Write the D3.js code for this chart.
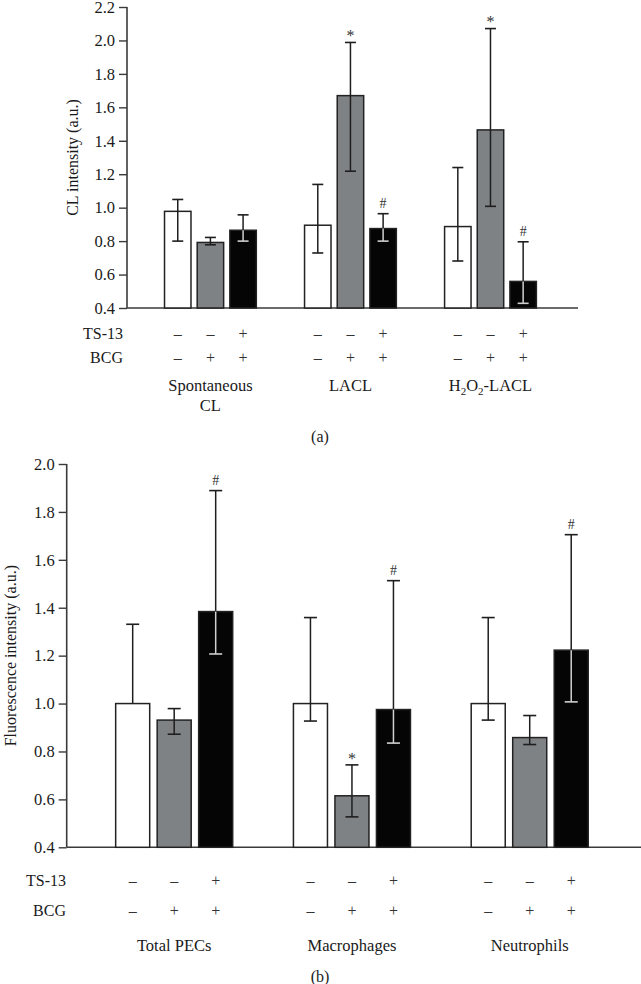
<!DOCTYPE html>
<html>
<head>
<meta charset="utf-8">
<script src="https://cdn.jsdelivr.net/npm/d3@7"></script>
<style>
  body { margin: 0; background: #fff; }
  svg { display: block; font-family: "Liberation Serif", "Times New Roman", serif; }
</style>
</head>
<body>
<svg id="canvas" width="641" height="984"></svg>
<script>
// ---- panel (a) data ----
let topGroups = ["Spontaneous CL", "LACL", "H2O2-LACL"]
let topMeans = [[0.978, 0.792, 0.865], [0.895, 1.67, 0.875], [0.887, 1.465, 0.559]]
let topUpper = [[1.049, 0.822, 0.957], [1.139, 1.988, 0.964], [1.24, 2.071, 0.796]]
let topLower = [[0.80, 0.778, 0.80], [0.729, 1.218, 0.80], [0.681, 1.008, 0.428]]
let topMarks = [["", "", ""], ["", "*", "#"], ["", "*", "#"]]
let topTicks = [0.4, 0.6, 0.8, 1.0, 1.2, 1.4, 1.6, 1.8, 2.0, 2.2]

// ---- panel (b) data ----
let botGroups = ["Total PECs", "Macrophages", "Neutrophils"]
let botMeans = [[1.0, 0.931, 1.384], [1.0, 0.615, 0.975], [1.0, 0.858, 1.223]]
let botUpper = [[1.331, 0.979, 1.889], [1.359, 0.744, 1.513], [1.359, 0.95, 1.705]]
let botLower = [[1.0, 0.872, 1.207], [0.927, 0.527, 0.835], [0.931, 0.829, 1.007]]
let botMarks = [["", "", "#"], ["", "*", "#"], ["", "", "#"]]
let botTicks = [0.4, 0.6, 0.8, 1.0, 1.2, 1.4, 1.6, 1.8, 2.0]

// treatment rows (same for every group)
let ts13 = ["\u2013", "\u2013", "+"]
let bcg = ["\u2013", "+", "+"]
let barFills = ["#ffffff", "#7f8285", "#050505"]

let canvas = d3.select('#canvas')

let drawPanel = (p) => {
    let g = canvas.append('g')
    let y = d3.scaleLinear().domain([p.ticks[0], p.ticks[p.ticks.length - 1]]).range([p.y0, p.y1])
    let x = d3.scaleBand().domain(d3.range(p.groups.length)).range(p.groupRange).paddingInner(0)
    let xi = d3.scaleBand().domain([0, 1, 2]).range([-p.inner / 2, p.inner / 2]).paddingInner(p.pad).paddingOuter(p.pad / 2)
    let cx = (gi, bi) => x(gi) + x.bandwidth() / 2 + xi(bi) + xi.bandwidth() / 2

    // axes
    let yAxis = d3.axisLeft(y).tickValues(p.ticks).tickFormat(d3.format('.1f')).tickSize(8).tickPadding(4)
    let ya = g.append('g').attr('transform', `translate(${p.axisX},0)`).call(yAxis)
    ya.select('.domain').attr('stroke', '#3a3a3a').attr('stroke-width', 1.6).attr('d', `M0,${p.y0}V${p.y1}`)
    ya.selectAll('.tick line').attr('stroke', '#3a3a3a').attr('stroke-width', 1.4)
    ya.selectAll('.tick text').attr('font-size', 16.5).attr('fill', '#1a1a1a').attr('font-family', 'Liberation Serif')
    g.append('line').attr('x1', p.axisX).attr('x2', p.axisEnd).attr('y1', p.y0).attr('y2', p.y0)
        .attr('stroke', '#3a3a3a').attr('stroke-width', 1.6)

    g.append('text').attr('transform', `translate(${p.labelX},${(p.y0 + p.y1) / 2}) rotate(-90)`)
        .attr('text-anchor', 'middle').attr('dy', '0.35em').attr('font-size', 16).attr('fill', '#1a1a1a')
        .text(p.ylabel)

    p.means.forEach((row, gi) => {
        row.forEach((v, bi) => {
            let c = cx(gi, bi)
            let w = xi.bandwidth()
            g.append('rect').attr('x', c - w / 2).attr('y', y(v)).attr('width', w).attr('height', p.y0 - y(v))
                .attr('fill', barFills[bi]).attr('stroke', '#222').attr('stroke-width', 1.5)

            let hi = p.upper[gi][bi], lo = p.lower[gi][bi]
            let dark = '#1e1e1e'
            // whisker above the bar
            g.append('line').attr('x1', c).attr('x2', c).attr('y1', y(hi)).attr('y2', y(v)).attr('stroke', dark).attr('stroke-width', 1.5)
            g.append('line').attr('x1', c - p.cap / 2).attr('x2', c + p.cap / 2).attr('y1', y(hi)).attr('y2', y(hi)).attr('stroke', dark).attr('stroke-width', 1.6)
            // whisker inside the bar (light on black bars)
            if (lo < v) {
                let col = bi == 2 ? '#d0d0d0' : dark
                g.append('line').attr('x1', c).attr('x2', c).attr('y1', y(v)).attr('y2', y(lo)).attr('stroke', col).attr('stroke-width', 1.5)
                g.append('line').attr('x1', c - p.cap / 2).attr('x2', c + p.cap / 2).attr('y1', y(lo)).attr('y2', y(lo)).attr('stroke', col).attr('stroke-width', 1.6)
            }
            let m = p.marks[gi][bi]
            if (m) {
                g.append('text').attr('x', c).attr('y', y(hi) - 6).attr('text-anchor', 'middle')
                    .attr('font-size', m == '*' ? 16 : 14).attr('fill', '#333')
                    .attr('dy', m == '*' ? '0.3em' : '0')
                    .text(m)
            }
            // treatment signs
            g.append('text').attr('x', c).attr('y', p.rowTS).attr('dy', '0.35em').attr('text-anchor', 'middle')
                .attr('font-size', 16).attr('fill', '#333').text(ts13[bi])
            g.append('text').attr('x', c).attr('y', p.rowBCG).attr('dy', '0.35em').attr('text-anchor', 'middle')
                .attr('font-size', 16).attr('fill', '#333').text(bcg[bi])
        })

        // group name
        let gx = x(gi) + x.bandwidth() / 2
        let name = p.groups[gi]
        let t = g.append('text').attr('x', gx).attr('y', p.rowName).attr('dy', '0.35em')
            .attr('text-anchor', 'middle').attr('font-size', 16.5).attr('fill', '#1a1a1a')
        if (name == 'Spontaneous CL') {
            t.text('Spontaneous')
            g.append('text').attr('x', gx).attr('y', p.rowName + 20).attr('dy', '0.35em')
                .attr('text-anchor', 'middle').attr('font-size', 16.5).attr('fill', '#1a1a1a').text('CL')
        } else if (name == 'H2O2-LACL') {
            t.append('tspan').text('H')
            t.append('tspan').attr('font-size', 11).attr('dy', 4).text('2')
            t.append('tspan').attr('dy', -4).text('O')
            t.append('tspan').attr('font-size', 11).attr('dy', 4).text('2')
            t.append('tspan').attr('dy', -4).text('-LACL')
        } else {
            t.text(name)
        }
    })

    g.append('text').attr('x', p.rowLabelX).attr('y', p.rowTS).attr('dy', '0.35em').attr('text-anchor', 'end')
        .attr('font-size', 16).attr('fill', '#1a1a1a').text('TS-13')
    g.append('text').attr('x', p.rowLabelX).attr('y', p.rowBCG).attr('dy', '0.35em').attr('text-anchor', 'end')
        .attr('font-size', 16).attr('fill', '#1a1a1a').text('BCG')
    g.append('text').attr('x', 320).attr('y', p.panelY).attr('dy', '0.35em').attr('text-anchor', 'middle')
        .attr('font-size', 16).attr('fill', '#1a1a1a').text(p.panel)
}

drawPanel({
    groups: topGroups, means: topMeans, upper: topUpper, lower: topLower, marks: topMarks, ticks: topTicks,
    y0: 308, y1: 7, axisX: 127, axisEnd: 578, labelX: 72,
    groupRange: [140.4, 560.5], inner: 98, pad: 0.19, cap: 11,
    ylabel: 'CL intensity (a.u.)',
    rowTS: 333.3, rowBCG: 357.3, rowName: 385, rowLabelX: 123, panelY: 436, panel: '(a)'
})

drawPanel({
    groups: botGroups, means: botMeans, upper: botUpper, lower: botLower, marks: botMarks, ticks: botTicks,
    y0: 847.3, y1: 464, axisX: 66.7, axisEnd: 641, labelX: 10,
    groupRange: [85.3, 618.6], inner: 124.5, pad: 0.18, cap: 13,
    ylabel: 'Fluorescence intensity (a.u.)',
    rowTS: 880.7, rowBCG: 910.7, rowName: 945, rowLabelX: 66, panelY: 976, panel: '(b)'
})
</script>
</body>
</html>
